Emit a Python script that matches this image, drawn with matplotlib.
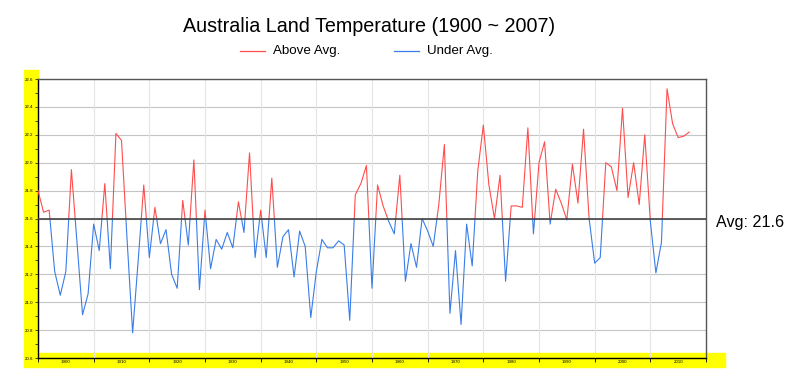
import numpy as np
import matplotlib
matplotlib.use("Agg")
import matplotlib.pyplot as plt
from matplotlib.lines import Line2D
from matplotlib.patches import Rectangle

plt.rcParams["font.family"] = ["Liberation Sans", "DejaVu Sans"]

# ---------- data ----------
AVG = 21.6
years = np.arange(1900, 2018)
temps = [
    21.80, 21.645, 21.66, 21.22, 21.05, 21.22, 21.95, 21.43, 20.91, 21.06,
    21.56, 21.37, 21.85, 21.24, 22.21, 22.16, 21.45, 20.78, 21.30, 21.84,
    21.32, 21.68, 21.42, 21.52, 21.20, 21.10, 21.73, 21.41, 22.02, 21.09,
    21.66, 21.24, 21.45, 21.38, 21.50, 21.39, 21.72, 21.50, 22.07, 21.32,
    21.66, 21.32, 21.89, 21.25, 21.47, 21.52, 21.18, 21.51, 21.40, 20.89,
    21.22, 21.45, 21.39, 21.39, 21.44, 21.41, 20.87, 21.77, 21.85, 21.98,
    21.10, 21.84, 21.69, 21.58, 21.49, 21.91, 21.15, 21.42, 21.25, 21.60,
    21.51, 21.40, 21.70, 22.13, 20.92, 21.37, 20.84, 21.56, 21.26, 21.94,
    22.27, 21.84, 21.60, 21.91, 21.15, 21.69, 21.69, 21.68, 22.25, 21.49,
    22.00, 22.15, 21.56, 21.81, 21.71, 21.59, 21.99, 21.71, 22.24, 21.60,
    21.28, 21.32, 22.00, 21.97, 21.80, 22.39, 21.75, 22.00, 21.70, 22.20,
    21.58, 21.21, 21.43, 22.53, 22.28, 22.18, 22.19, 22.22,
]
decade_labels = ["1900", "1910", "1920", "1930", "1940", "1950",
                 "1960", "1970", "1980", "1990", "2000", "2010"]
y_ticks = [20.6, 20.8, 21.0, 21.2, 21.4, 21.6, 21.8, 22.0, 22.2, 22.4, 22.6]

RED = "#ff4d4d"
BLUE = "#3a7de8"


def split_at(x, y, level):
    # insert the points where the line crosses the average
    xs, ys = [x[0]], [y[0]]
    for i in range(1, len(x)):
        y0, y1 = y[i - 1], y[i]
        if (y0 - level) * (y1 - level) < 0:
            t = (level - y0) / (y1 - y0)
            xs.append(x[i - 1] + t * (x[i] - x[i - 1]))
            ys.append(level)
        xs.append(x[i])
        ys.append(y1)
    return np.array(xs, dtype=float), np.array(ys, dtype=float)


fig = plt.figure(figsize=(7.99, 3.80), dpi=100)

# yellow highlight around the axes labels (behind the axes)
W, H = 799.0, 380.0
fig.patches.append(Rectangle((24 / W, 1 - 366 / H), 14 / W, 296 / H,
                             transform=fig.transFigure, color="#ffff00", zorder=-1))
fig.patches.append(Rectangle((24 / W, 1 - 367 / H), 701 / W, 14 / H,
                             transform=fig.transFigure, color="#ffff00", zorder=-1))

ax = fig.add_axes([38 / W, 1 - 358 / H, 668 / W, 279 / H])
ax.set_zorder(1)
ax.set_facecolor("none")

xs, ys = split_at(years, temps, AVG)
above = np.where(ys >= AVG, ys, np.nan)
under = np.where(ys <= AVG, ys, np.nan)
ax.plot(xs, above, color=RED, lw=0.8, zorder=3)
ax.plot(xs, under, color=BLUE, lw=0.8, zorder=3)

ax.axhline(AVG, color="#444444", lw=1.2, zorder=4)

ax.set_xlim(1900, 2020)
ax.set_ylim(20.6, 22.6)

# horizontal grid
for v in y_ticks:
    ax.axhline(v, color="#c4c4c4", lw=0.8, zorder=1)
# vertical grid at decade boundaries
for d in range(1910, 2020, 10):
    ax.axvline(d, color="#e4e4e4", lw=0.8, zorder=1)

ax.set_xticks(np.arange(1900, 2021, 10))
ax.set_xticklabels([])
ax.set_xticks(np.arange(1905, 2020, 10), minor=True)
ax.set_xticklabels(decade_labels, minor=True)
ax.tick_params(axis="x", which="major", length=3, width=0.6, direction="out")
ax.tick_params(axis="x", which="minor", length=0, labelsize=3.2, pad=1.5)

ax.set_yticks(y_ticks)
ax.set_yticklabels([f"{v:.1f}" for v in y_ticks])
ax.set_yticks(np.arange(20.7, 22.6, 0.2), minor=True)
ax.tick_params(axis="y", which="both", length=2, width=0.5, labelsize=3.2, pad=1.5)

for s in ["left", "bottom"]:
    ax.spines[s].set_color("black")
    ax.spines[s].set_linewidth(1.0)
for s in ["top", "right"]:
    ax.spines[s].set_color("#555555")
    ax.spines[s].set_linewidth(1.0)

# title and legend
fig.text(369 / W, 1 - 26 / H, "Australia Land Temperature (1900 ~ 2007)",
         ha="center", va="center", fontsize=14.2)
fig.add_artist(Line2D([240 / W, 265 / W], [1 - 51 / H] * 2, color=RED, lw=0.9))
fig.text(273 / W, 1 - 51 / H, "Above Avg.", ha="left", va="center", fontsize=9.6)
fig.add_artist(Line2D([394 / W, 419 / W], [1 - 51 / H] * 2, color=BLUE, lw=0.9))
fig.text(427 / W, 1 - 51 / H, "Under Avg.", ha="left", va="center", fontsize=9.6)

fig.text(716 / W, 1 - 222 / H, f"Avg: {AVG}", ha="left", va="center", fontsize=11.6)

fig.savefig("out.png", dpi=100)
